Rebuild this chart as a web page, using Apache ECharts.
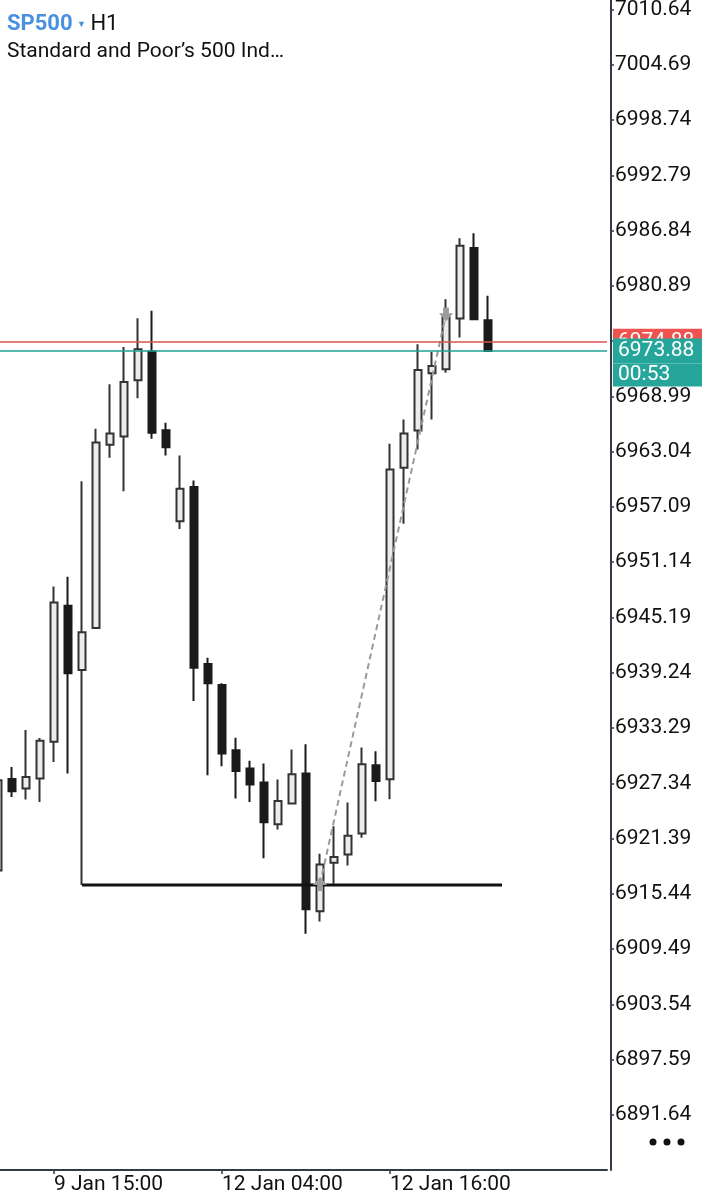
<!DOCTYPE html>
<html><head><meta charset="utf-8">
<script src="https://cdn.jsdelivr.net/npm/echarts@6/dist/echarts.min.js"></script>
<style>html,body{margin:0;padding:0;background:#fff}#chart{width:720px;height:1200px}</style>
</head><body><div id="chart"></div>
<script>
// Hourly bar times (last ones are empty future slots)
const categories = [
  '9 Jan 11:00','9 Jan 12:00','9 Jan 13:00','9 Jan 14:00','9 Jan 15:00','9 Jan 16:00','9 Jan 17:00',
  '9 Jan 18:00','9 Jan 19:00','9 Jan 20:00','9 Jan 21:00','9 Jan 22:00','9 Jan 23:00',
  '12 Jan 01:00','12 Jan 02:00','12 Jan 03:00','12 Jan 04:00','12 Jan 05:00','12 Jan 06:00','12 Jan 07:00',
  '12 Jan 08:00','12 Jan 09:00','12 Jan 10:00','12 Jan 11:00','12 Jan 12:00','12 Jan 13:00','12 Jan 14:00',
  '12 Jan 15:00','12 Jan 16:00','12 Jan 17:00','12 Jan 18:00','12 Jan 19:00','12 Jan 20:00','12 Jan 21:00',
  '12 Jan 22:00','12 Jan 23:00',
  '13 Jan 01:00','13 Jan 02:00','13 Jan 03:00','13 Jan 04:00','13 Jan 05:00','13 Jan 06:00','13 Jan 07:00','13 Jan 08:00'
];
const opens  = [6917.97,6927.82,6926.78,6927.86,6931.81,6946.45,6939.54,6944.07,6963.79,6964.68,6970.72,6973.82,6965.36,6955.54,6959.25,6940.19,6937.92,6930.91,6928.94,6927.43,6922.93,6925.16,6928.40,6913.57,6918.80,6919.69,6921.93,6929.29,6927.78,6961.30,6965.33,6971.48,6971.91,6977.38,6984.96,6977.19];
const closes = [6927.68,6926.49,6928.03,6931.92,6946.80,6939.19,6943.61,6964.03,6965.00,6970.54,6974.07,6965.08,6963.53,6959.04,6939.79,6938.11,6930.56,6928.68,6927.21,6923.14,6925.44,6928.32,6913.79,6918.61,6919.40,6921.71,6929.40,6927.60,6961.12,6965.00,6971.83,6972.26,6977.52,6985.21,6977.30,6973.88];
const lows   = [6916.89,6925.87,6925.59,6925.33,6929.65,6928.40,6916.40,6944.07,6962.38,6958.78,6968.78,6964.43,6962.63,6954.72,6936.20,6928.21,6929.19,6925.70,6925.33,6919.29,6922.36,6925.09,6911.14,6912.46,6916.53,6918.50,6921.49,6925.41,6925.63,6955.29,6963.28,6966.51,6971.55,6975.33,6977.30,6973.88];
const highs  = [6928.76,6929.11,6933.07,6932.21,6948.53,6949.58,6959.86,6965.51,6970.29,6974.31,6977.41,6978.20,6966.16,6962.63,6959.93,6940.87,6938.11,6932.24,6929.76,6929.48,6927.75,6930.99,6931.56,6919.77,6922.71,6925.27,6931.20,6930.80,6963.89,6966.51,6974.61,6973.78,6979.46,6986.01,6986.55,6979.82];

const yTickLabels = ['7010.64','7004.69','6998.74','6992.79','6986.84','6980.89','6974.94','6968.99','6963.04','6957.09','6951.14','6945.19','6939.24','6933.29','6927.34','6921.39','6915.44','6909.49','6903.54','6897.59','6891.64'];
const xTickLabels = ['9 Jan 15:00','12 Jan 04:00','12 Jan 16:00'];

const bidPrice = 6973.88;
const askPrice = 6974.88;
const barTimer = '00:53';
const levelLine = {from: '9 Jan 17:00', to: '13 Jan 01:00', price: 6916.40};
const tradeEntry = {time: '12 Jan 11:00', price: 6916.51};
const tradeExit  = {time: '12 Jan 20:00', price: 6977.81};

const yMin = 6885.72, yMax = 7011.66;

const candleData = opens.map((o, i) => [o, closes[i], lows[i], highs[i]]);
const FONT = 'Roboto';

const chart = echarts.init(document.getElementById('chart'), null, {renderer: 'canvas'});
chart.setOption({
  animation: false,
  backgroundColor: '#ffffff',
  textStyle: {fontFamily: FONT},
  title: {
    left: 7, top: 11, padding: 0,
    text: '{sym|SP500} {arr|▼} {tf|H1}\n{desc|Standard and Poor’s 500 Ind…}',
    textStyle: {
      fontWeight: 'normal',
      rich: {
        sym: {fontFamily: FONT, fontSize: 22, fontWeight: 'bold', color: '#4a90e0', lineHeight: 27},
        arr: {fontFamily: FONT, fontSize: 9, fontWeight: 'normal', color: '#4a90e0', lineHeight: 27},
        tf: {fontFamily: FONT, fontSize: 22, fontWeight: 'normal', color: '#111111', lineHeight: 27},
        desc: {fontFamily: FONT, fontSize: 21, fontWeight: 'normal', color: '#111111', lineHeight: 27}
      }
    }
  },
  grid: {left: -9, width: 616, top: 0, bottom: 30, outerBoundsMode: 'none', containLabel: false},
  xAxis: {
    type: 'category', data: categories, boundaryGap: true,
    axisLine: {show: true, lineStyle: {color: '#333a44', width: 2}},
    axisTick: {show: true, alignWithLabel: true, length: 4,
      interval: (i, v) => xTickLabels.includes(v),
      lineStyle: {color: '#333a44', width: 1.5}},
    axisLabel: {interval: (i, v) => xTickLabels.includes(v), align: 'left', margin: 4,
      fontFamily: FONT, fontSize: 21, color: '#111111'},
    splitLine: {show: false}
  },
  yAxis: {
    type: 'value', position: 'right', offset: 4, min: yMin, max: yMax,
    axisLine: {show: true, lineStyle: {color: '#333a44', width: 2}},
    axisTick: {show: true, length: 3, customValues: yTickLabels.map(Number), lineStyle: {color: '#333a44', width: 1.5}},
    axisLabel: {customValues: yTickLabels.map(Number), formatter: v => v.toFixed(2), margin: 4,
      padding: [4, 0, 0, 0],
      fontFamily: FONT, fontSize: 21, color: '#111111'},
    splitLine: {show: false}
  },
  series: [
    {
      type: 'candlestick', data: candleData, barWidth: 7.5, z: 2,
      itemStyle: {color: '#ececec', color0: '#1a1a1a', borderColor: '#333333', borderColor0: '#1a1a1a', borderWidth: 2},
      markLine: {
        silent: true, symbol: ['none', 'none'], animation: false,
        data: [
          {yAxis: askPrice, lineStyle: {color: '#d9534f', width: 1.5, type: 'solid', opacity: 1},
            label: {show: true, position: 'end', distance: 6,
              formatter: '{a|' + askPrice.toFixed(2) + '}',
              rich: {a: {color: '#ffffff', backgroundColor: '#ef5350', fontFamily: FONT, fontSize: 21,
                width: 84, height: 26, lineHeight: 26, padding: [0, 0, 0, 5]}}}},
          {yAxis: bidPrice, lineStyle: {color: '#1fa396', width: 1.5, type: 'solid', opacity: 1},
            label: {show: true, position: 'end', distance: 6,
              formatter: '{s| }\n{a|' + bidPrice.toFixed(2) + '}\n{b|' + barTimer + '}',
              rich: {
                s: {color: 'transparent', fontSize: 21, lineHeight: 23, height: 23},
                a: {color: '#ffffff', backgroundColor: '#26a69a', fontFamily: FONT, fontSize: 21,
                  width: 84, height: 25, lineHeight: 25, padding: [0, 0, 0, 5]},
                b: {color: '#ffffff', backgroundColor: '#26a69a', fontFamily: FONT, fontSize: 21,
                  width: 84, height: 23, lineHeight: 23, padding: [0, 0, 0, 5]}
              }}}
        ]
      }
    },
    {
      type: 'line', name: 'level', z: 3, symbol: 'none', silent: true,
      data: [[levelLine.from, levelLine.price], [levelLine.to, levelLine.price]],
      lineStyle: {color: '#111111', width: 3}
    },
    {
      type: 'line', name: 'trade', z: 4, symbol: 'none', silent: true,
      data: [[tradeEntry.time, tradeEntry.price], [tradeExit.time, tradeExit.price]],
      lineStyle: {color: '#9a9a9a', width: 2, type: [6, 4]}
    },
    {
      type: 'scatter', name: 'arrows', z: 5, silent: true,
      symbol: 'path://M6,0 L12,7 L8.5,7 L8.5,12 L3.5,12 L3.5,7 L0,7 Z',
      symbolSize: [14, 14],
      itemStyle: {color: '#9c9c9c', opacity: 1},
      data: [
        {value: [tradeEntry.time, tradeEntry.price], symbolRotate: 0},
        {value: [tradeExit.time, tradeExit.price], symbolRotate: 180}
      ]
    }
  ],
  graphic: [
    {type: 'circle', shape: {cx: 653, cy: 1142, r: 3.5}, style: {fill: '#111'}},
    {type: 'circle', shape: {cx: 667, cy: 1142, r: 3.5}, style: {fill: '#111'}},
    {type: 'circle', shape: {cx: 681, cy: 1142, r: 3.5}, style: {fill: '#111'}}
  ]
});
</script></body></html>
